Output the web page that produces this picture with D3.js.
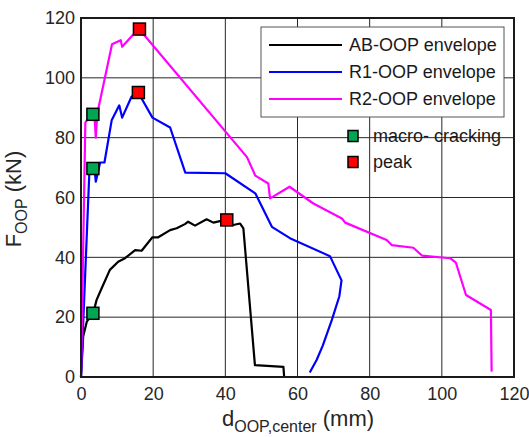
<!DOCTYPE html>
<html>
<head>
<meta charset="utf-8">
<script src="https://cdn.jsdelivr.net/npm/d3@7"></script>
<style>
  body { margin: 0; background: #fff; }
  text { font-family: "Liberation Sans", Arial, sans-serif; }
</style>
</head>
<body>
<script>
// displacement (mm), force (kN)
const abDisp  = [0, 0.6, 1.6, 3.4, 4.3, 5.7, 8, 10.3, 12.2, 15, 16.8, 19.8, 21.4, 24.7, 26.5, 28.8, 29.7, 31.6, 34.8, 36.7, 38.8, 40.4, 42.2, 44.1, 45, 48.2, 56.1, 56.3];
const abForce = [0, 13.5, 18.5, 21.3, 25.7, 29.6, 35.8, 38.5, 39.7, 42.4, 42.2, 46.7, 46.7, 49.1, 49.7, 51.1, 51.9, 50.6, 52.7, 51.6, 52.2, 52.5, 50.8, 51.3, 49.7, 4, 3.4, 0];

const r1Disp  = [0, 2.3, 3.3, 3.8, 4.1, 5.3, 6.5, 8.5, 10.6, 11.4, 14, 15.9, 19.8, 24.7, 28.9, 40, 48.3, 52.9, 57.9, 69, 72.2, 71.6, 69.5, 67, 65.3, 63.4];
const r1Force = [0, 68, 69.7, 69, 65.3, 71.7, 71.7, 85.8, 90.8, 86.7, 93.7, 95, 86.7, 83.4, 68.3, 68.1, 61.4, 50.2, 46.4, 40.4, 32.3, 27, 19, 10.5, 5.7, 1.5];

const r2Disp  = [0, 1.2, 2, 3.3, 3.7, 4.1, 4.5, 8.6, 11, 11.4, 14.8, 16.1, 46, 48.3, 51.9, 52.4, 57.8, 64.4, 72.3, 73.2, 84.7, 86.1, 92.1, 94.5, 102.3, 103.9, 106.7, 113.6, 113.7, 113.8];
const r2Force = [0, 85, 86.5, 87.8, 88, 80, 88, 111.2, 112.6, 110.4, 114.9, 116.3, 73.5, 67.3, 64.7, 59.7, 63.6, 58, 53, 51.6, 45.8, 44.1, 43.2, 40.6, 39.7, 38.2, 27.4, 22.4, 12, 1.8];

const crackDisp  = [3.3, 3.3, 3.3];
const crackForce = [21.3, 69.7, 87.8];
const peakDisp   = [40.4, 15.9, 16.2];
const peakForce  = [52.5, 95.1, 116.3];

const seriesNames  = ["AB-OOP envelope", "R1-OOP envelope", "R2-OOP envelope"];
const seriesColors = ["#000000", "#0000ff", "#ff00ff"];
const markerNames  = ["macro- cracking", "peak"];
const markerColors = ["#00a651", "#ff0000"];
const tickValues   = [0, 20, 40, 60, 80, 100, 120];

const width = 529, height = 437;
const svg = d3.select("body").append("svg")
  .attr("width", width)
  .attr("height", height);

const x = d3.scaleLinear().domain([0, 120]).range([81, 514]);
const y = d3.scaleLinear().domain([0, 120]).range([377, 18]);

// grid
svg.append("g")
  .selectAll("line.gx")
  .data(tickValues.slice(1, -1))
  .enter().append("line")
  .attr("x1", d => x(d)).attr("x2", d => x(d))
  .attr("y1", y(0)).attr("y2", y(120))
  .attr("stroke", "#262626").attr("stroke-width", 1);
svg.append("g")
  .selectAll("line.gy")
  .data(tickValues.slice(1, -1))
  .enter().append("line")
  .attr("y1", d => y(d)).attr("y2", d => y(d))
  .attr("x1", x(0)).attr("x2", x(120))
  .attr("stroke", "#262626").attr("stroke-width", 1);

// axes
const xAxis = svg.append("g")
  .attr("transform", "translate(0," + y(0) + ")")
  .call(d3.axisBottom(x).tickValues(tickValues).tickSize(0).tickPadding(10));
const yAxis = svg.append("g")
  .attr("transform", "translate(" + x(0) + ",0)")
  .call(d3.axisLeft(y).tickValues(tickValues).tickSize(0).tickPadding(6));
[xAxis, yAxis].forEach(a => {
  a.select(".domain").remove();
  a.selectAll("text")
    .style("font-size", "18px")
    .style("font-family", "'Liberation Sans', Arial, sans-serif")
    .attr("fill", "#262626");
});
xAxis.selectAll("text").attr("dy", "0.71em");

// series lines
const seriesData = [
  abDisp.map((d, i) => [d, abForce[i]]),
  r1Disp.map((d, i) => [d, r1Force[i]]),
  r2Disp.map((d, i) => [d, r2Force[i]])
];
const line = d3.line().x(d => x(d[0])).y(d => y(d[1]));
svg.append("g")
  .selectAll("path")
  .data(seriesData)
  .enter().append("path")
  .attr("d", line)
  .attr("fill", "none")
  .attr("stroke", (d, i) => seriesColors[i])
  .attr("stroke-width", 2.2)
  .attr("stroke-linejoin", "round");

// markers
const ms = 12;
svg.append("g")
  .selectAll("rect")
  .data(crackDisp.map((d, i) => [d, crackForce[i]]))
  .enter().append("rect")
  .attr("x", d => x(d[0]) - ms / 2).attr("y", d => y(d[1]) - ms / 2)
  .attr("width", ms).attr("height", ms)
  .attr("fill", markerColors[0]).attr("stroke", "#000").attr("stroke-width", 1.5);
svg.append("g")
  .selectAll("rect")
  .data(peakDisp.map((d, i) => [d, peakForce[i]]))
  .enter().append("rect")
  .attr("x", d => x(d[0]) - ms / 2).attr("y", d => y(d[1]) - ms / 2)
  .attr("width", ms).attr("height", ms)
  .attr("fill", markerColors[1]).attr("stroke", "#000").attr("stroke-width", 1.5);

// plot box
svg.append("rect")
  .attr("x", x(0)).attr("y", y(120))
  .attr("width", x(120) - x(0)).attr("height", y(0) - y(120))
  .attr("fill", "none").attr("stroke", "#1a1a1a").attr("stroke-width", 2);

// legend for lines
const legend = svg.append("g").attr("transform", "translate(261,27)");
legend.append("rect")
  .attr("width", 243).attr("height", 90)
  .attr("fill", "#fff").attr("stroke", "#555").attr("stroke-width", 1);
const rows = legend.selectAll("g.row")
  .data(seriesNames)
  .enter().append("g")
  .attr("transform", (d, i) => "translate(0," + (18 + i * 27) + ")");
rows.append("line")
  .attr("x1", 8).attr("x2", 81)
  .attr("stroke", (d, i) => seriesColors[i]).attr("stroke-width", 2.2);
rows.append("text")
  .attr("x", 88).attr("dy", "0.35em")
  .style("font-size", "18px").attr("fill", "#1a1a1a")
  .text(d => d);

// legend for markers
const mLegend = svg.selectAll("g.mrow")
  .data(markerNames)
  .enter().append("g")
  .attr("transform", (d, i) => "translate(353," + (136 + i * 26) + ")");
mLegend.append("rect")
  .attr("x", -5).attr("y", -5.5).attr("width", 10).attr("height", 11)
  .attr("fill", (d, i) => markerColors[i]).attr("stroke", "#000").attr("stroke-width", 1.5);
mLegend.append("text")
  .attr("x", 20).attr("dy", "0.35em")
  .style("font-size", "18px").attr("fill", "#1a1a1a")
  .text(d => d);

// axis labels
const yLab = svg.append("text")
  .attr("transform", "translate(21,199) rotate(-90)")
  .attr("text-anchor", "middle")
  .style("font-size", "22px").attr("fill", "#262626");
yLab.append("tspan").text("F");
yLab.append("tspan").attr("dy", 6).style("font-size", "16px").text("OOP");
yLab.append("tspan").attr("dy", -6).text(" (kN)");

const xLab = svg.append("text")
  .attr("x", 298).attr("y", 426)
  .attr("text-anchor", "middle")
  .style("font-size", "22px").attr("fill", "#262626");
xLab.append("tspan").text("d");
xLab.append("tspan").attr("dy", 6).style("font-size", "16px").text("OOP,center");
xLab.append("tspan").attr("dy", -6).text(" (mm)");
</script>
</body>
</html>
